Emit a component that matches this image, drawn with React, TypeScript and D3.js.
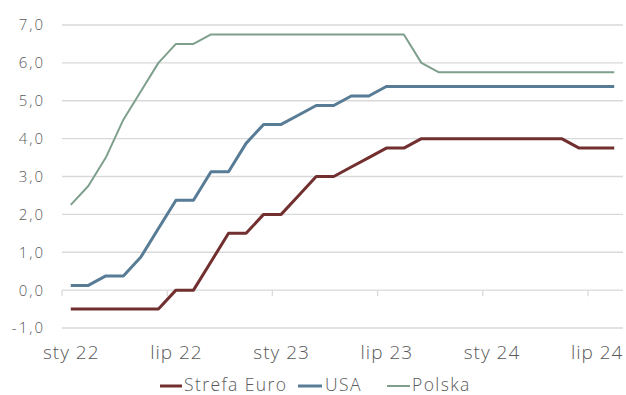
import React from "react";
import * as d3 from "d3";

const months: string[] = [
  "2022-01","2022-02","2022-03","2022-04","2022-05","2022-06","2022-07","2022-08","2022-09","2022-10","2022-11","2022-12",
  "2023-01","2023-02","2023-03","2023-04","2023-05","2023-06","2023-07","2023-08","2023-09","2023-10","2023-11","2023-12",
  "2024-01","2024-02","2024-03","2024-04","2024-05","2024-06","2024-07","2024-08",
];
const strefaEuro: number[] = [
  -0.5,-0.5,-0.5,-0.5,-0.5,-0.5,0,0,0.75,1.5,1.5,2.0,
  2.0,2.5,3.0,3.0,3.25,3.5,3.75,3.75,4.0,4.0,4.0,4.0,
  4.0,4.0,4.0,4.0,4.0,3.75,3.75,3.75,
];
const usa: number[] = [
  0.125,0.125,0.375,0.375,0.875,1.625,2.375,2.375,3.125,3.125,3.875,4.375,
  4.375,4.625,4.875,4.875,5.125,5.125,5.375,5.375,5.375,5.375,5.375,5.375,
  5.375,5.375,5.375,5.375,5.375,5.375,5.375,5.375,
];
const polska: number[] = [
  2.25,2.75,3.5,4.5,5.25,6.0,6.5,6.5,6.75,6.75,6.75,6.75,
  6.75,6.75,6.75,6.75,6.75,6.75,6.75,6.75,6.0,5.75,5.75,5.75,
  5.75,5.75,5.75,5.75,5.75,5.75,5.75,5.75,
];
const xTickLabels: string[] = ["sty 22","lip 22","sty 23","lip 23","sty 24","lip 24"];
const yTicks: number[] = [-1,0,1,2,3,4,5,6,7];

const seriesList = [
  { name: "Strefa Euro", values: strefaEuro, color: "#722f2f", width: 3 },
  { name: "USA", values: usa, color: "#587c96", width: 3 },
  { name: "Polska", values: polska, color: "#7f9f8d", width: 2 },
];

export default function App() {
  const W = 626, H = 395;
  const left = 62, right = 623, top = 25, bottom = 328;
  const x = d3.scaleLinear().domain([0, months.length]).range([left, right]);
  const y = d3.scaleLinear().domain([-1, 7]).range([bottom, top]);
  const line = d3.line<number>().x((_, i) => x(i + 0.5)).y((v) => y(v));
  const font = "'Open Sans', sans-serif";
  const legendItems = [
    { x0: 160, x1: 182, tx: 184 },
    { x0: 298, x1: 322, tx: 325 },
    { x0: 387, x1: 410, tx: 412 },
  ];
  return (
    <svg width={W} height={H} style={{ position: "absolute", left: 0, top: 0, background: "#fff" }}>
      {yTicks.map((t) => (
        <g key={t}>
          <line x1={left} x2={right} y1={y(t)} y2={y(t)} stroke="#d9d9d9" strokeWidth={1.3} />
          <text x={45} y={y(t)} dy="0.36em" textAnchor="end" fontFamily={font} fontWeight={300} fontSize={15} letterSpacing={2} fill="#595959">
            {d3.format(".1f")(t).replace(".", ",").replace("−", "-")}
          </text>
        </g>
      ))}
      {xTickLabels.map((lab, k) => (
        <g key={lab}>
          <line x1={x(k * 6)} x2={x(k * 6)} y1={y(0)} y2={y(0) + 6} stroke="#d9d9d9" strokeWidth={1.3} />
          <text x={x(k * 6 + 0.5) + 0.5} y={359} textAnchor="middle" fontFamily={font} fontWeight={300} fontSize={19} letterSpacing={1} fill="#595959">
            {lab}
          </text>
        </g>
      ))}
      {seriesList.map((s) => (
        <path key={s.name} d={line(s.values) || ""} fill="none" stroke={s.color} strokeWidth={s.width} strokeLinejoin="round" />
      ))}
      {seriesList.map((s, k) => (
        <g key={s.name}>
          <line x1={legendItems[k].x0} x2={legendItems[k].x1} y1={386} y2={386} stroke={s.color} strokeWidth={s.width} />
          <text x={legendItems[k].tx} y={390.5} fontFamily={font} fontWeight={300} fontSize={17.5} letterSpacing={1.4} fill="#595959">
            {s.name}
          </text>
        </g>
      ))}
    </svg>
  );
}
